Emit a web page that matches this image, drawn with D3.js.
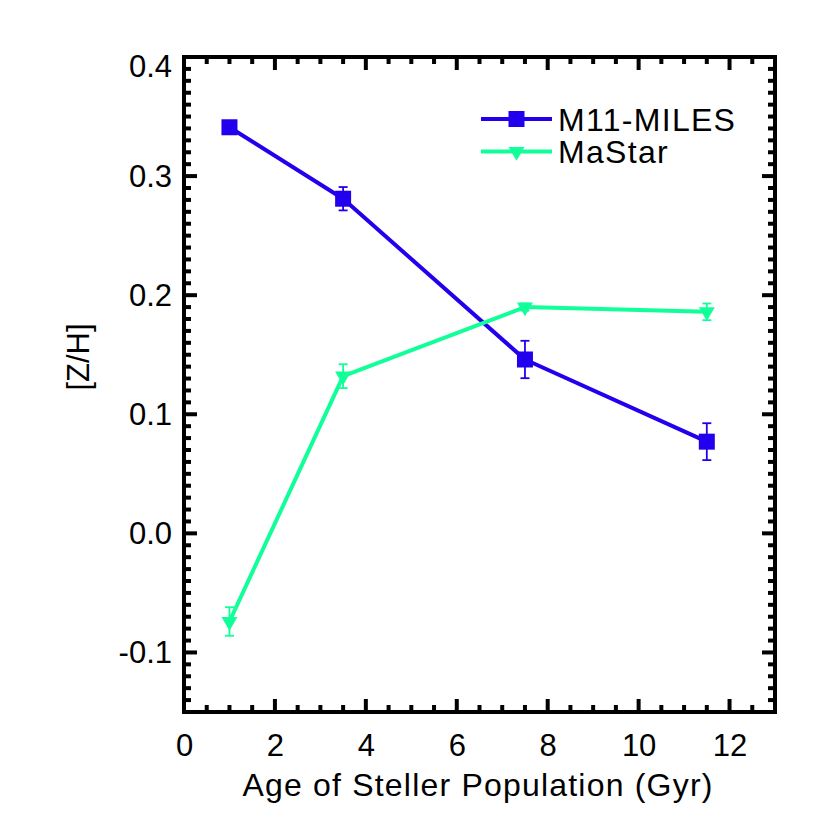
<!DOCTYPE html>
<html>
<head>
<meta charset="utf-8">
<script src="https://cdn.jsdelivr.net/npm/d3@7"></script>
<style>
  body { margin: 0; background: #fff; }
  text { font-family: "Liberation Sans", Arial, Helvetica, sans-serif; }
</style>
</head>
<body>
<svg id="chart" width="830" height="830"></svg>
<script>
// data
var ages = [1, 3.5, 7.5, 11.5];
var milesZH = [0.341, 0.281, 0.146, 0.077];
var milesErr = [0.0, 0.0098, 0.0157, 0.0155];
var mastarZH = [-0.074, 0.132, 0.190, 0.186];
var mastarErr = [0.012, 0.010, 0.003, 0.007];

var xMajor = [0, 2, 4, 6, 8, 10, 12];
var yMajor = [-0.1, 0.0, 0.1, 0.2, 0.3, 0.4];

var blue = "#2200ee",
  green = "#11ff99";

var svg = d3.select("#chart"),
  margin = { top: 57, right: 55, bottom: 118, left: 184 },
  width = +svg.attr("width") - margin.left - margin.right,
  height = +svg.attr("height") - margin.top - margin.bottom,
  g = svg.append("g")
    .attr("transform", "translate(" + margin.left + "," + margin.top + ")");

var x = d3.scaleLinear().domain([0, 13]).range([0, width]);
var y = d3.scaleLinear().domain([-0.15, 0.4]).range([height, 0]);

// minor ticks: every 0.5 on x, every 0.01 on y
var xMinor = d3.range(1, 27).filter(function(k) { return k % 4 != 0; })
  .map(function(k) { return k / 2; });
var yMinor = d3.range(-15, 41).filter(function(k) { return k % 10 != 0; })
  .map(function(k) { return k / 100; });

function styleAxis(sel) {
  sel.select(".domain").remove();
  sel.selectAll("line").remove();
  sel.selectAll("text")
    .attr("font-size", 31)
    .attr("fill", "#000");
}

// labelled axes
g.append("g")
  .attr("transform", "translate(0," + height + ")")
  .call(d3.axisBottom(x).tickValues(xMajor).tickSize(0).tickPadding(22)
    .tickFormat(d3.format("d")))
  .call(styleAxis);

g.append("g")
  .call(d3.axisLeft(y).tickValues(yMajor).tickSize(0).tickPadding(12)
    .tickFormat(function(d) { return d3.format(".1f")(d).replace("−", "-"); }))
  .call(styleAxis)
  .selectAll("text")
  .attr("dy", function(d) { return d == 0.4 ? "0.62em" : "0.32em"; });

// inward ticks on all four sides
var ticks = g.append("g").attr("stroke", "#000").attr("stroke-width", 4);
function xTicks(vals, len) {
  [0, height].forEach(function(y0) {
    var dir = y0 == 0 ? 1 : -1;
    ticks.selectAll(null).data(vals).enter().append("line")
      .attr("x1", function(d) { return x(d); })
      .attr("x2", function(d) { return x(d); })
      .attr("y1", y0)
      .attr("y2", y0 + dir * len);
  });
}
function yTicks(vals, len) {
  [0, width].forEach(function(x0) {
    var dir = x0 == 0 ? 1 : -1;
    ticks.selectAll(null).data(vals).enter().append("line")
      .attr("y1", function(d) { return y(d); })
      .attr("y2", function(d) { return y(d); })
      .attr("x1", x0)
      .attr("x2", x0 + dir * len);
  });
}
xTicks(xMajor, 13);
xTicks(xMinor, 7);
yTicks(yMajor, 13);
yTicks(yMinor, 7);

// frame
g.append("rect")
  .attr("width", width)
  .attr("height", height)
  .attr("fill", "none")
  .attr("stroke", "#000")
  .attr("stroke-width", 4);

// axis titles
svg.append("text")
  .attr("x", 478)
  .attr("y", 796)
  .attr("text-anchor", "middle")
  .attr("font-size", 32)
  .attr("letter-spacing", 1.2)
  .text("Age of Steller Population (Gyr)");

svg.append("text")
  .attr("transform", "translate(89," + 357 + ") rotate(-90)")
  .attr("text-anchor", "middle")
  .attr("font-size", 31)
  .text("[Z/H]");

function makeSeries(vals) {
  return ages.map(function(a, i) { return { age: a, v: vals[i] }; });
}

var line = d3.line()
  .x(function(d) { return x(d.age); })
  .y(function(d) { return y(d.v); });

var squareSym = d3.symbol().type(d3.symbolSquare).size(256);
var triSym = d3.symbol().type(d3.symbolTriangle).size(110);

function drawSeries(vals, errs, color, sym, rot) {
  var data = makeSeries(vals);
  g.append("path")
    .datum(data)
    .attr("fill", "none")
    .attr("stroke", color)
    .attr("stroke-width", 4)
    .attr("stroke-linejoin", "round")
    .attr("d", line);

  var eb = g.append("g").selectAll("g")
    .data(data.map(function(d, i) { return { age: d.age, v: d.v, e: errs[i] }; }))
    .enter().append("g")
    .attr("stroke", color)
    .attr("stroke-width", 1.8);
  eb.append("line")
    .attr("x1", function(d) { return x(d.age); })
    .attr("x2", function(d) { return x(d.age); })
    .attr("y1", function(d) { return y(d.v - d.e); })
    .attr("y2", function(d) { return y(d.v + d.e); });
  [-1, 1].forEach(function(s) {
    eb.filter(function(d) { return d.e > 0; }).append("line")
      .attr("x1", function(d) { return x(d.age) - 4.5; })
      .attr("x2", function(d) { return x(d.age) + 4.5; })
      .attr("y1", function(d) { return y(d.v + s * d.e); })
      .attr("y2", function(d) { return y(d.v + s * d.e); });
  });

  g.append("g").selectAll("path")
    .data(data)
    .enter().append("path")
    .attr("d", sym)
    .attr("fill", color)
    .attr("transform", function(d) {
      return "translate(" + x(d.age) + "," + y(d.v) + ") rotate(" + rot + ")";
    });
}

drawSeries(milesZH, milesErr, blue, squareSym, 0);
drawSeries(mastarZH, mastarErr, green, triSym, 180);

// legend
var legend = [
  { name: "M11-MILES", color: blue, sym: squareSym, rot: 0 },
  { name: "MaStar", color: green, sym: triSym, rot: 180 }
];
var lg = svg.append("g").selectAll("g")
  .data(legend)
  .enter().append("g")
  .attr("transform", function(d, i) { return "translate(481," + (119 + i * 32.5) + ")"; });
lg.append("line")
  .attr("x1", 0).attr("x2", 71)
  .attr("stroke", function(d) { return d.color; })
  .attr("stroke-width", 4);
lg.append("path")
  .attr("d", function(d) { return d.sym(); })
  .attr("fill", function(d) { return d.color; })
  .attr("transform", function(d) { return "translate(35.5,0) rotate(" + d.rot + ")"; });
lg.append("text")
  .attr("x", 77)
  .attr("dy", "0.36em")
  .attr("font-size", 32)
  .attr("letter-spacing", 1.3)
  .text(function(d) { return d.name; });
</script>
</body>
</html>
